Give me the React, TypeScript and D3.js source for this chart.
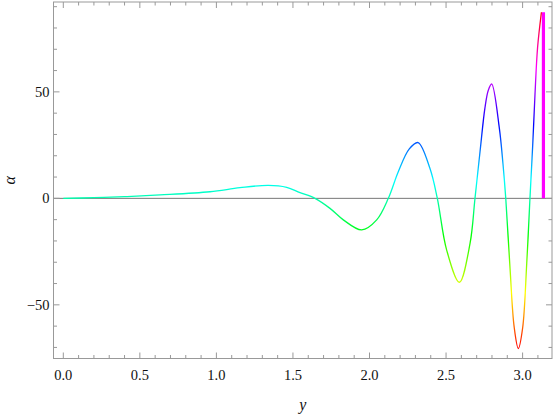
import React, { useEffect, useRef } from "react";
import * as d3 from "d3";

// points: y value and alpha value
const curveY = [
  0.0, 0.2, 0.4, 0.632, 0.958, 1.154, 1.339, 1.459, 1.546, 1.644, 1.742, 1.829,
  1.949, 2.047, 2.123, 2.188, 2.26, 2.317, 2.395, 2.443, 2.504, 2.587, 2.657,
  2.689, 2.722, 2.754, 2.776, 2.798, 2.848, 2.872, 2.89, 2.918, 2.945, 2.972,
  3.0, 3.027, 3.048, 3.066, 3.081, 3.098, 3.123,
];
const curveAlpha = [
  0, 0.3, 0.8, 1.6, 3.1, 5.0, 6.1, 5.2, 2.7, 0, -4.7, -10.1, -14.8, -10.1, 0,
  12.5, 23.2, 26.2, 14, 0, -24.3, -39.4, -21, 0, 22, 42.5, 50.8, 53.7, 33, 16, 0,
  -33, -60.5, -70.5, -61, -30.5, 0, 25, 49, 71, 87.4,
];

// the thick magenta bar at the end
const barY = 3.136;
const barAlpha = [0, 87.4];

const xTicks = [0, 0.5, 1.0, 1.5, 2.0, 2.5, 3.0];
const xTickLabels = ["0.0", "0.5", "1.0", "1.5", "2.0", "2.5", "3.0"];
const xMinorTicks = d3.range(0, 32).map((i) => i / 10);
const yTicks = [-50, 0, 50];
const yTickLabels = ["\u221250", "0", "50"];
const yMinorTicks = d3.range(-70, 91, 10);

const App = () => {
  const svgRef = useRef<SVGSVGElement>(null);

  useEffect(() => {
    const width = 554;
    const height = 415;
    const frame = { left: 53.5, right: 552, top: 2, bottom: 358.5 };

    const svg = d3.select(svgRef.current);
    svg.selectAll("*").remove();
    svg.attr("width", width).attr("height", height);

    const x = d3
      .scaleLinear()
      .domain([-0.064, 3.192])
      .range([frame.left, frame.right]);
    const y = d3
      .scaleLinear()
      .domain([-75.2, 92.2])
      .range([frame.bottom, frame.top]);

    const points = curveY.map((v, i) => [v, curveAlpha[i]] as [number, number]);

    // hue colour by alpha value, red at the minimum round to red at the maximum
    const [aMin, aMax] = d3.extent(curveAlpha) as [number, number];
    const grad = svg
      .append("defs")
      .append("linearGradient")
      .attr("id", "hue")
      .attr("gradientUnits", "userSpaceOnUse")
      .attr("x1", 0)
      .attr("x2", 0)
      .attr("y1", y(aMin))
      .attr("y2", y(aMax));
    d3.range(0, 13).forEach((i) => {
      grad
        .append("stop")
        .attr("offset", i / 12)
        .attr("stop-color", d3.hsl((360 * i) / 12, 1, 0.5).toString());
    });

    const fontFamily = "'Liberation Serif', 'Times New Roman', serif";

    // zero axis
    svg
      .append("line")
      .attr("x1", frame.left)
      .attr("x2", frame.right)
      .attr("y1", y(0))
      .attr("y2", y(0))
      .attr("stroke", "#777")
      .attr("stroke-width", 1);

    // curve
    svg
      .append("path")
      .datum(points)
      .attr("fill", "none")
      .attr("stroke", "url(#hue)")
      .attr("stroke-width", 1.3)
      .attr(
        "d",
        d3
          .line()
          .x((d) => x(d[0]))
          .y((d) => y(d[1]))
          .curve(d3.curveCatmullRom.alpha(0.5))
      );

    svg
      .append("line")
      .attr("x1", x(barY))
      .attr("x2", x(barY))
      .attr("y1", y(barAlpha[0]))
      .attr("y2", y(barAlpha[1]))
      .attr("stroke", "#ff00ff")
      .attr("stroke-width", 3.2);

    // frame
    svg
      .append("rect")
      .attr("x", frame.left)
      .attr("y", frame.top)
      .attr("width", frame.right - frame.left)
      .attr("height", frame.bottom - frame.top)
      .attr("fill", "none")
      .attr("stroke", "#999")
      .attr("stroke-width", 1);

    const ticks = svg.append("g").attr("stroke", "#999").attr("stroke-width", 1);
    const isMajorX = (v: number) => xTicks.some((t) => Math.abs(t - v) < 1e-6);
    xMinorTicks.forEach((v) => {
      const len = isMajorX(v) ? 6 : 3.5;
      ticks.append("line").attr("x1", x(v)).attr("x2", x(v))
        .attr("y1", frame.bottom).attr("y2", frame.bottom - len);
      ticks.append("line").attr("x1", x(v)).attr("x2", x(v))
        .attr("y1", frame.top).attr("y2", frame.top + len);
    });
    yMinorTicks.forEach((v) => {
      const len = yTicks.includes(v) ? 6 : 3.5;
      ticks.append("line").attr("y1", y(v)).attr("y2", y(v))
        .attr("x1", frame.left).attr("x2", frame.left + len);
      ticks.append("line").attr("y1", y(v)).attr("y2", y(v))
        .attr("x1", frame.right).attr("x2", frame.right - len);
    });

    // tick labels
    svg
      .append("g")
      .selectAll("text")
      .data(xTicks)
      .join("text")
      .attr("x", (d) => x(d))
      .attr("y", 379.5)
      .attr("text-anchor", "middle")
      .attr("font-family", fontFamily)
      .attr("font-size", 14.5)
      .attr("fill", "#111")
      .text((_, i) => xTickLabels[i]);

    svg
      .append("g")
      .selectAll("text")
      .data(yTicks)
      .join("text")
      .attr("x", 49.5)
      .attr("y", (d) => y(d) + 5)
      .attr("text-anchor", "end")
      .attr("font-family", fontFamily)
      .attr("font-size", 14.5)
      .attr("fill", "#111")
      .text((_, i) => yTickLabels[i]);

    // axis labels
    svg
      .append("text")
      .attr("x", (frame.left + frame.right) / 2)
      .attr("y", 410)
      .attr("text-anchor", "middle")
      .attr("font-family", fontFamily)
      .attr("font-style", "italic")
      .attr("font-size", 16)
      .attr("fill", "#111")
      .text("y");

    svg
      .append("text")
      .attr("transform", `translate(15,${(frame.top + frame.bottom) / 2}) rotate(-90)`)
      .attr("text-anchor", "middle")
      .attr("font-family", fontFamily)
      .attr("font-style", "italic")
      .attr("font-size", 16)
      .attr("fill", "#111")
      .text("\u03b1");
  }, []);

  return (
    <svg
      ref={svgRef}
      style={{ position: "absolute", left: 0, top: 0, background: "#fff" }}
    ></svg>
  );
};

export default App;
